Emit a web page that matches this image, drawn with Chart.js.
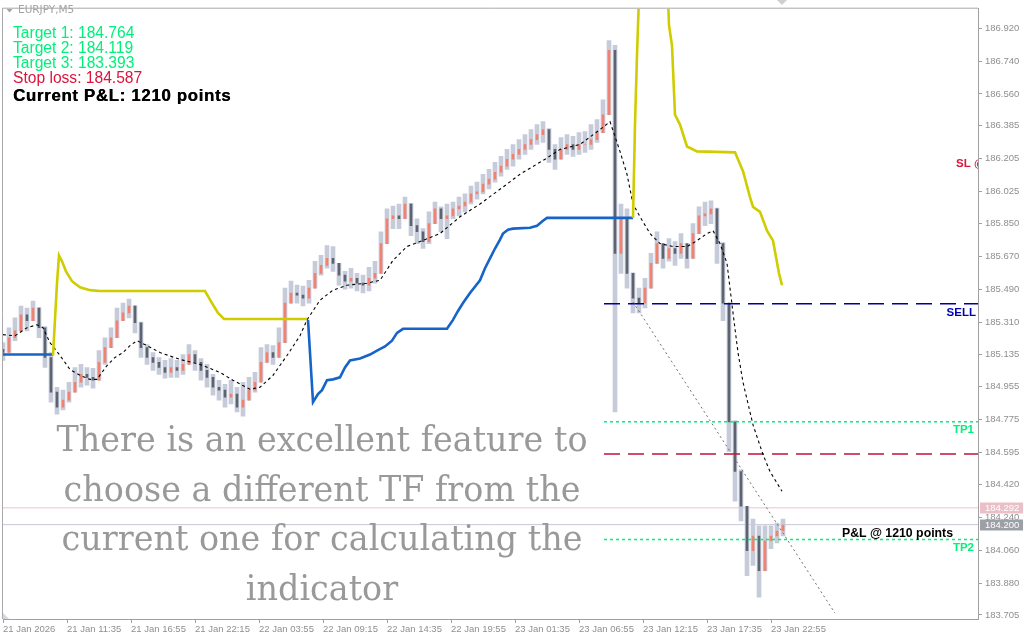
<!DOCTYPE html>
<html><head><meta charset="utf-8">
<script src="https://cdn.jsdelivr.net/npm/chart.js@4.4.1/dist/chart.umd.min.js"></script>
<style>html,body{margin:0;padding:0;background:#fff;overflow:hidden}#wrap{width:1024px;height:641px;position:relative}</style>
</head><body><div id="wrap"><canvas id="c" width="1024" height="641"></canvas></div>
<script>
// ---------- data ----------
const symbolTitle = 'EURJPY,M5';
const timeLabels = ['21 Jan 2026','21 Jan 11:35','21 Jan 16:55','21 Jan 22:15','22 Jan 03:55','22 Jan 09:15','22 Jan 14:35','22 Jan 19:55','23 Jan 01:35','23 Jan 06:55','23 Jan 12:15','23 Jan 17:35','23 Jan 22:55'];
const timeTickIdx = [0,64,128,192,256,320,384,448,512,576,640,704,768];
const priceTicks = [186.920,186.740,186.560,186.385,186.205,186.025,185.850,185.670,185.490,185.310,185.135,184.955,184.775,184.595,184.420,184.240,184.060,183.880,183.705];
const yMin = 183.683, yMax = 187.027, xMin = 0, xMax = 975;

const candleStep = 6; // M5 bars per drawn candle
const candleOpen0 = 185.160;
const candleClose = [185.143,185.224,185.262,185.349,185.317,185.387,185.279,185.116,184.926,184.844,
184.882,184.926,184.980,185.023,185.007,184.991,185.089,185.170,185.224,185.317,
185.360,185.398,185.306,185.170,185.116,185.089,185.061,185.034,185.061,185.045,
185.078,185.132,185.089,185.045,185.007,184.953,184.937,184.899,184.915,184.844,
184.882,184.937,184.980,185.089,185.143,185.116,185.197,185.414,185.469,185.458,
185.441,185.496,185.577,185.621,185.659,185.632,185.567,185.534,185.550,185.523,
185.512,185.550,185.577,185.740,185.876,185.892,185.876,185.957,185.838,185.805,
185.751,185.849,185.930,185.876,185.892,185.930,185.946,185.968,186.012,186.023,
186.066,186.093,186.131,186.164,186.202,186.229,186.256,186.283,186.310,186.337,
186.365,186.256,186.202,186.256,186.283,186.256,186.283,186.283,186.310,186.348,
186.446,186.799,185.686,185.876,185.577,185.441,185.414,185.496,185.632,185.740,
185.659,185.713,185.686,185.740,185.659,185.795,185.892,185.903,185.930,185.740,
185.414,184.763,184.491,184.301,184.057,184.138,183.948,184.111,184.138,184.165,
184.198];
const candleHigh = [185.197,185.279,185.333,185.398,185.387,185.425,185.390,185.285,185.143,184.953,
184.937,184.980,185.061,185.078,185.061,185.056,185.154,185.224,185.279,185.387,
185.414,185.436,185.400,185.310,185.186,185.143,185.116,185.100,185.110,185.100,
185.132,185.186,185.154,185.110,185.078,185.023,184.991,184.969,184.991,184.953,
184.980,185.007,185.034,185.170,185.186,185.181,185.279,185.496,185.534,185.512,
185.507,185.539,185.643,185.675,185.729,185.724,185.632,185.588,185.605,185.577,
185.567,185.610,185.643,185.805,185.930,185.946,185.957,185.995,185.960,185.876,
185.822,185.914,185.968,185.941,185.957,185.968,185.995,186.012,186.055,186.077,
186.120,186.147,186.185,186.218,186.256,186.283,186.310,186.337,186.365,186.392,
186.408,186.370,186.283,186.321,186.337,186.327,186.348,186.354,186.392,186.419,
186.528,186.853,186.826,185.957,185.930,185.580,185.496,185.550,185.686,185.805,
185.740,185.767,185.751,185.795,185.740,185.849,185.941,185.968,185.974,185.935,
185.745,185.414,184.770,184.500,184.301,184.231,184.193,184.193,184.193,184.209,
184.231];
const candleLow = [185.100,185.170,185.208,185.295,185.262,185.333,185.224,185.061,184.871,184.806,
184.828,184.871,184.926,184.953,184.964,184.948,185.007,185.078,185.170,185.251,
185.317,185.333,185.251,185.116,185.078,185.045,185.023,185.002,185.007,185.007,
185.023,185.078,185.045,184.991,184.953,184.910,184.882,184.844,184.861,184.817,
184.795,184.882,184.926,185.034,185.089,185.078,185.132,185.224,185.414,185.414,
185.398,185.414,185.507,185.567,185.605,185.588,185.512,185.490,185.496,185.480,
185.469,185.480,185.523,185.621,185.767,185.822,185.822,185.876,185.784,185.740,
185.713,185.740,185.860,185.805,185.767,185.876,185.892,185.914,185.957,185.984,
186.012,186.039,186.077,186.109,186.147,186.164,186.202,186.229,186.256,186.283,
186.294,186.185,186.147,186.202,186.229,186.218,186.229,186.240,186.256,186.294,
186.348,186.446,184.817,185.577,185.496,185.360,185.360,185.387,185.523,185.643,
185.605,185.643,185.621,185.659,185.605,185.713,185.805,185.838,185.849,185.632,
185.317,184.600,184.328,184.220,183.921,183.976,183.802,184.003,184.068,184.100,
184.138];

// dotted moving average
const maIdx = [0,12,24,34,40,47,57,67,77,87,94,104,112,120,127,134,144,157,177,197,217,230,247,257,270,284,297,304,317,330,344,364,377,390,404,417,437,457,477,504,517,542,557,577,597,607,617,624,630,637,647,657,670,684,694,704,710,717,724,730,735,740,750,760,767,779];
const maVal = [185.241,185.235,185.279,185.295,185.279,185.197,185.127,185.050,185.018,184.996,184.996,185.072,185.116,185.143,185.181,185.208,185.181,185.143,185.105,185.078,185.034,184.991,184.942,184.953,185.018,185.127,185.235,185.322,185.430,185.485,185.512,185.523,185.539,185.648,185.724,185.751,185.795,185.887,185.957,186.066,186.120,186.202,186.256,186.283,186.365,186.408,186.245,186.120,185.957,185.887,185.795,185.740,185.724,185.724,185.756,185.795,185.811,185.740,185.632,185.360,185.143,184.980,184.747,184.584,184.491,184.383];

// trailing band segments (yellow = upper, blue = lower)
const upper1Idx = [50,54,56,59,63,69,77,87,97,202,209,215,221,304];
const upper1Val = [185.127,185.523,185.675,185.643,185.588,185.534,185.501,185.485,185.480,185.480,185.414,185.360,185.327,185.327];
const upper2Idx = [630,632,634,635,638,663,666,669,672,677,684,694,732,740,747,750,757,764,770,776,779];
const upper2Val = [185.881,186.392,186.772,186.935,187.400,187.400,186.935,186.826,186.446,186.392,186.272,186.245,186.240,186.137,185.995,185.941,185.914,185.811,185.756,185.577,185.512];
const lower1Idx = [0,50];
const lower1Val = [185.132,185.132];
const lower2Idx = [305,310,315,319,324,330,337,342,347,357,367,374,382,389,394,400,444,450,455,460,467,477,482,487,492,497,500,505,510,527,534,540,544,630];
const lower2Val = [185.322,184.871,184.915,184.937,184.991,184.996,185.007,185.061,185.100,185.110,185.132,185.154,185.176,185.208,185.251,185.273,185.273,185.322,185.371,185.414,185.469,185.539,185.605,185.659,185.713,185.762,185.795,185.816,185.822,185.827,185.838,185.865,185.881,185.881];

const trendIdx = [630,832];
const trendVal = [185.420,183.715];

const levelStartIdx = 601;
const sellPrice = 185.410, target1 = 184.764, target2 = 184.119, target3 = 183.393, stopLoss = 184.587;
const askPrice = 184.292, bidPrice = 184.200, pnlPoints = 1210;
const slTagPrice = 186.175;

// ---------- build ----------
const pts = (xs, ys) => xs.map((x, i) => ({x, y: ys[i]}));
const candleOpen = candleClose.map((c, i) => i === 0 ? candleOpen0 : candleClose[i - 1]);
const candleIdx = candleClose.map((c, i) => i * candleStep);
const wickData = candleClose.map((c, i) => ({x: candleIdx[i], y: [Math.min(candleLow[i], candleOpen[i], c), Math.max(candleHigh[i], candleOpen[i], c)]}));
const bodyData = candleClose.map((c, i) => ({x: candleIdx[i], y: [candleOpen[i], c]}));
const bodyColor = candleClose.map((c, i) => c >= candleOpen[i] ? '#f2826f' : '#5d646f');
const level = (p) => [{x: levelStartIdx, y: p}, {x: xMax, y: p}];
const full = (p) => [{x: xMin, y: p}, {x: xMax, y: p}];
const lineDs = (data, color, width, dash, order) => ({type: 'line', data, borderColor: color, borderWidth: width, borderDash: dash || [], pointRadius: 0, tension: 0, fill: false, order});

const overlay = {
  id: 'overlay',
  afterDraw(chart) {
    const c = chart.ctx, a = chart.chartArea, ys = chart.scales.y;
    c.save();
    c.strokeStyle = '#a9a9a9'; c.lineWidth = 1;
    c.beginPath(); c.moveTo(a.left - 0.5, a.bottom); c.lineTo(a.left - 0.5, a.top - 0.5); c.lineTo(a.right, a.top - 0.5); c.stroke();
    // shift markers
    c.fillStyle = '#cfcfcf';
    c.beginPath(); c.moveTo(777, 0); c.lineTo(787, 0); c.lineTo(782, 5); c.closePath(); c.fill();
    c.fillStyle = '#d4d6e0';
    c.beginPath(); c.moveTo(a.left, a.bottom - 6); c.lineTo(a.left, a.bottom); c.lineTo(a.left + 6, a.bottom); c.closePath(); c.fill();
    // symbol title
    c.fillStyle = '#a3a3a3';
    c.beginPath(); c.moveTo(6.5, 9); c.lineTo(12.5, 9); c.lineTo(9.5, 12.5); c.closePath(); c.fill();
    c.font = '10.5px "DejaVu Sans"'; c.textBaseline = 'middle'; c.textAlign = 'left';
    c.fillText(symbolTitle, 18, 10.5);
    // info block
    c.textBaseline = 'alphabetic';
    c.font = '15.6px "Liberation Sans", Arial, sans-serif';
    c.fillStyle = '#00f07a';
    c.fillText('Target 1: ' + target1.toFixed(3), 13, 38);
    c.fillText('Target 2: ' + target2.toFixed(3), 13, 53);
    c.fillText('Target 3: ' + target3.toFixed(3), 13, 68);
    c.fillStyle = '#dc143c';
    c.fillText('Stop loss: ' + stopLoss.toFixed(3), 13, 83);
    c.fillStyle = '#000';
    c.font = 'bold 16.8px "Liberation Sans", Arial, sans-serif';
    try { c.letterSpacing = '0.7px'; } catch (e) {}
    c.fillText('Current P&L: ' + pnlPoints + ' points', 13, 101);
    c.fillText('Current P&L: ' + pnlPoints + ' points', 13.4, 101);
    try { c.letterSpacing = '0px'; } catch (e) {}
    // line tags (clipped to plot)
    c.save();
    c.beginPath(); c.rect(a.left, a.top, a.right - a.left, a.bottom - a.top); c.clip();
    c.textBaseline = 'middle'; c.textAlign = 'left';
    c.font = 'bold 11.5px "Liberation Sans", Arial, sans-serif';
    c.fillStyle = '#dc143c'; c.fillText('SL @', 956, ys.getPixelForValue(slTagPrice));
    c.textAlign = 'right';
    c.fillStyle = '#0000b4'; c.fillText('SELL', 976, ys.getPixelForValue(sellPrice) + 9);
    c.fillStyle = '#00f07a';
    c.fillText('TP1', 974, ys.getPixelForValue(target1) + 8);
    c.fillText('TP2', 974, ys.getPixelForValue(target2) + 8);
    c.fillStyle = '#000';
    c.font = 'bold 12.3px "Liberation Sans", Arial, sans-serif';
    c.fillText('P&L @ ' + pnlPoints + ' points', 953, ys.getPixelForValue(bidPrice) + 8.5);
    c.restore();
    // price boxes on axis
    const box = (p, bg) => {
      const y = ys.getPixelForValue(p);
      c.fillStyle = bg; c.fillRect(a.right + 2, Math.round(y) - 5.5, 43, 11);
      c.fillStyle = '#fff'; c.font = '9.5px "Liberation Sans", Arial, sans-serif';
      c.textAlign = 'left'; c.textBaseline = 'middle';
      c.fillText(p.toFixed(3), a.right + 7, Math.round(y));
    };
    box(askPrice, '#eabfc8');
    box(bidPrice, '#9c9fa6');
    // watermark
    const lines = ['There is an excellent feature to', 'choose a different TF from the', 'current one for calculating the', 'indicator'];
    c.font = '36px "DejaVu Serif", "Liberation Serif", serif';
    const sx = 531 / c.measureText(lines[0]).width;
    c.fillStyle = '#999999'; c.textAlign = 'center'; c.textBaseline = 'alphabetic';
    lines.forEach((t, i) => {
      c.save(); c.translate(322, 451 + i * 49.7); c.scale(sx, 1); c.fillText(t, 0, 0); c.restore();
    });
    c.restore();
  }
};

Chart.defaults.font.family = '"Liberation Sans", Arial, sans-serif';
new Chart(document.getElementById('c'), {
  type: 'bar',
  data: {
    datasets: [
      lineDs(full(askPrice), '#efc2cb', 1, [], 40),
      lineDs(full(bidPrice), '#c6c9d4', 1, [], 41),
      {type: 'bar', data: wickData, backgroundColor: '#c6cbda', barThickness: 4, grouped: false, order: 30},
      {type: 'bar', data: bodyData, backgroundColor: bodyColor, barThickness: 2, grouped: false, order: 29},
      lineDs(level(sellPrice), '#00009a', 1.4, [16, 8], 8),
      lineDs(level(stopLoss), '#c4103a', 1.4, [16, 8], 8),
      lineDs(level(target1), '#00f07a', 1.4, [3, 3], 8),
      lineDs(level(target2), '#00f07a', 1.4, [3, 3], 8),
      lineDs(pts(trendIdx, trendVal), '#6f6f6f', 1, [2, 3], 7),
      lineDs(pts(maIdx, maVal), '#000000', 1.1, [3, 3], 6),
      lineDs(pts(upper1Idx, upper1Val), '#cfcc00', 2.6, [], 5),
      lineDs(pts(upper2Idx, upper2Val), '#cfcc00', 2.6, [], 5),
      lineDs(pts(lower1Idx, lower1Val), '#1664c8', 2.6, [], 5),
      lineDs(pts(lower2Idx, lower2Val), '#1664c8', 2.6, [], 5)
    ]
  },
  options: {
    responsive: false, animation: false, devicePixelRatio: 1,
    layout: {padding: {left: 3, top: 3, right: 0, bottom: 0}},
    plugins: {legend: {display: false}, tooltip: {enabled: false}},
    scales: {
      x: {
        type: 'linear', position: 'bottom', min: xMin, max: xMax, offset: false,
        afterBuildTicks: s => { s.ticks = timeTickIdx.map(v => ({value: v})); },
        afterFit: s => { s.height = 22; },
        grid: {drawOnChartArea: false, tickLength: 4, color: '#a0a0a0', offset: false},
        border: {color: '#a0a0a0'},
        ticks: {autoSkip: false, maxRotation: 0, align: 'start', padding: 1, color: '#8f8f8f', font: {size: 9.5},
          callback: v => timeLabels[timeTickIdx.indexOf(v)]}
      },
      y: {
        type: 'linear', position: 'right', min: yMin, max: yMax, beginAtZero: false,
        afterBuildTicks: s => { s.ticks = priceTicks.map(v => ({value: v})); },
        afterFit: s => { s.width = 46; },
        grid: {drawOnChartArea: false, tickLength: 4, color: '#a0a0a0'},
        border: {color: '#a0a0a0'},
        ticks: {autoSkip: false, padding: 3, color: '#8f8f8f', font: {size: 9.5}, callback: v => Number(v).toFixed(3)}
      }
    }
  },
  plugins: [overlay]
});
</script></body></html>
